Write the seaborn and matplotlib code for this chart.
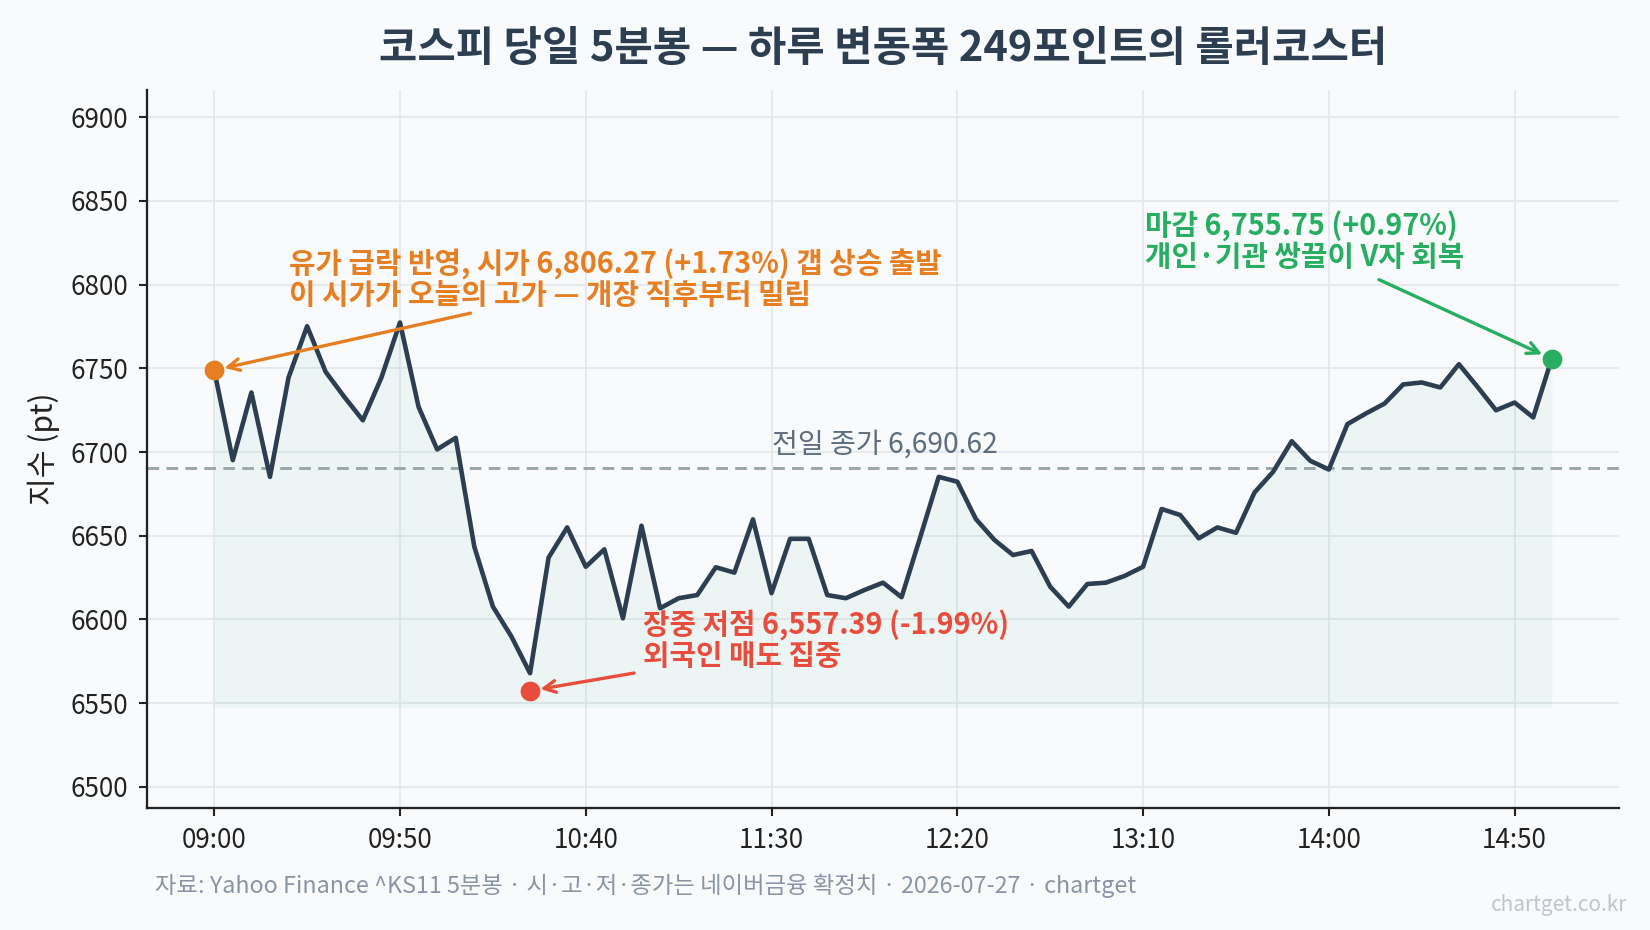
import matplotlib
matplotlib.use("Agg")
import matplotlib.pyplot as plt
import seaborn as sns
import pandas as pd

# ---- data ----
TIMES = [t.strftime("%H:%M") for t in pd.date_range("2026-07-27 09:00", "2026-07-27 15:00", freq="5min")]
VALUES = [6748.9, 6695.2, 6735.6, 6685.2, 6744.5, 6775.2, 6747.9, 6733.0, 6719.0, 6744.5,
          6777.4, 6727.0, 6701.6, 6708.5, 6643.5, 6607.7, 6589.8, 6567.9,
          6637.0, 6655.0, 6631.5, 6641.9, 6600.7, 6656.0, 6606.7, 6612.7, 6614.6, 6631.2,
          6628.0, 6659.8, 6615.7, 6648.2, 6648.2, 6614.6, 6612.7, 6617.6,
          6622.0, 6613.3, 6649.0, 6685.2, 6682.3, 6660.0, 6647.5, 6638.5, 6640.9, 6619.6,
          6607.7, 6621.2, 6622.0, 6626.0, 6631.5, 6666.0, 6662.4, 6648.5, 6655.0,
          6651.8, 6675.9, 6688.2, 6706.5, 6694.8, 6689.6, 6716.7, 6723.1, 6729.0, 6740.4,
          6741.6, 6738.6, 6752.5, 6739.0, 6725.0, 6729.6, 6720.7, 6755.75]
PREV_CLOSE = 6690.62
LOW_VALUE = 6557.39
LOW_IDX = 17
CLOSE_VALUE = 6755.75
TICK_LABELS = ["09:00", "09:50", "10:40", "11:30", "12:20", "13:10", "14:00", "14:50"]
Y_TICKS = [6500, 6550, 6600, 6650, 6700, 6750, 6800, 6850, 6900]

TITLE = "코스피 당일 5분봉 — 하루 변동폭 249포인트의 롤러코스터"
NOTE_OPEN = "유가 급락 반영, 시가 6,806.27 (+1.73%) 갭 상승 출발\n이 시가가 오늘의 고가 — 개장 직후부터 밀림"
NOTE_LOW = "장중 저점 6,557.39 (-1.99%)\n외국인 매도 집중"
NOTE_CLOSE = "마감 6,755.75 (+0.97%)\n개인·기관 쌍끌이 V자 회복"
PREV_LABEL = "전일 종가 6,690.62"
SOURCE = "자료: Yahoo Finance ^KS11 5분봉 · 시·고·저·종가는 네이버금융 확정치 · 2026-07-27 · chartget"
WATERMARK = "chartget.co.kr"

df = pd.DataFrame({"idx": range(len(VALUES)), "time": TIMES, "value": VALUES})

# ---- style ----
BG = "#f8fafc"
sns.set_theme(style="ticks")
plt.rcParams["font.family"] = ["Noto Sans CJK KR", "DejaVu Sans"]
plt.rcParams["axes.unicode_minus"] = False

fig = plt.figure(figsize=(11, 6.2), dpi=150, facecolor=BG)
ax = fig.add_axes([0.0893, 0.1312, 0.9810 - 0.0893, 0.9027 - 0.1312])
ax.set_facecolor(BG)

base = LOW_VALUE - 10
ax.fill_between(df["idx"], df["value"], base, color="#27ae60", alpha=0.055, linewidth=0, zorder=1)
sns.lineplot(data=df, x="idx", y="value", ax=ax, color="#2c3e50", linewidth=2.2, zorder=3)
ax.axhline(PREV_CLOSE, color="#9aa6a8", linestyle=(0, (4, 2.5)), linewidth=1.4, zorder=2)
ax.text(30, PREV_CLOSE + 5, PREV_LABEL, color="#5d6d7e", fontsize=13.5, ha="left", va="bottom", zorder=4)

# markers
first_idx = 0
last_idx = len(VALUES) - 1
ax.scatter([first_idx], [VALUES[0]], s=90, color="#e67e22", zorder=5, linewidths=0)
ax.scatter([LOW_IDX], [LOW_VALUE], s=90, color="#e74c3c", zorder=5, linewidths=0)
ax.scatter([last_idx], [CLOSE_VALUE], s=90, color="#27ae60", zorder=5, linewidths=0)

# annotations (arrows drawn separately from text)
arrow_kw = dict(arrowstyle="->", lw=1.6, shrinkA=0, shrinkB=5, mutation_scale=14)
ax.annotate("", xy=(first_idx, VALUES[0]), xytext=(13.8, 6783),
            arrowprops=dict(color="#e67e22", **arrow_kw))
ax.text(4.05, 6803, NOTE_OPEN, color="#e67e22", fontsize=13.8, fontweight="bold",
        ha="left", va="center", linespacing=1.0, zorder=6)

ax.annotate("", xy=(LOW_IDX, LOW_VALUE), xytext=(22.6, 6568),
            arrowprops=dict(color="#e74c3c", **arrow_kw))
ax.text(23.1, 6587.5, NOTE_LOW, color="#e74c3c", fontsize=13.8, fontweight="bold",
        ha="left", va="center", linespacing=1.0, zorder=6)

ax.annotate("", xy=(last_idx, CLOSE_VALUE), xytext=(62.7, 6803),
            arrowprops=dict(color="#27ae60", **arrow_kw))
ax.text(50.1, 6826, NOTE_CLOSE, color="#27ae60", fontsize=13.8, fontweight="bold",
        ha="left", va="center", linespacing=1.0, zorder=6)

# axes
tick_pos = [TIMES.index(t) for t in TICK_LABELS]
ax.set_xticks(tick_pos)
ax.set_xticklabels(TICK_LABELS)
ax.set_yticks(Y_TICKS)
ax.set_xlim(-3.6, 75.6)
ax.set_ylim(6487.4, 6916)
ax.set_xlabel("")
ax.set_ylabel("지수 (pt)", fontsize=14.5, color="#222222", labelpad=5)
ax.tick_params(axis="both", labelsize=12.5, colors="#222222", length=4, width=1, pad=5)
ax.grid(True, color="#e3e6ea", linewidth=0.8, zorder=0)
ax.set_axisbelow(True)
for side in ["top", "right"]:
    ax.spines[side].set_visible(False)
for side in ["left", "bottom"]:
    ax.spines[side].set_color("#222222")
    ax.spines[side].set_linewidth(1.1)

fig.text(0.535, 0.947, TITLE, ha="center", va="center", fontsize=20, fontweight="bold", color="#2c3e50")
fig.text(0.094, 0.0475, SOURCE, ha="left", va="center", fontsize=11.2, color="#8a94a6")
fig.text(0.986, 0.027, WATERMARK, ha="right", va="center", fontsize=10, color="#bfc5cc")

fig.savefig("out.png", dpi=150, facecolor=BG)
